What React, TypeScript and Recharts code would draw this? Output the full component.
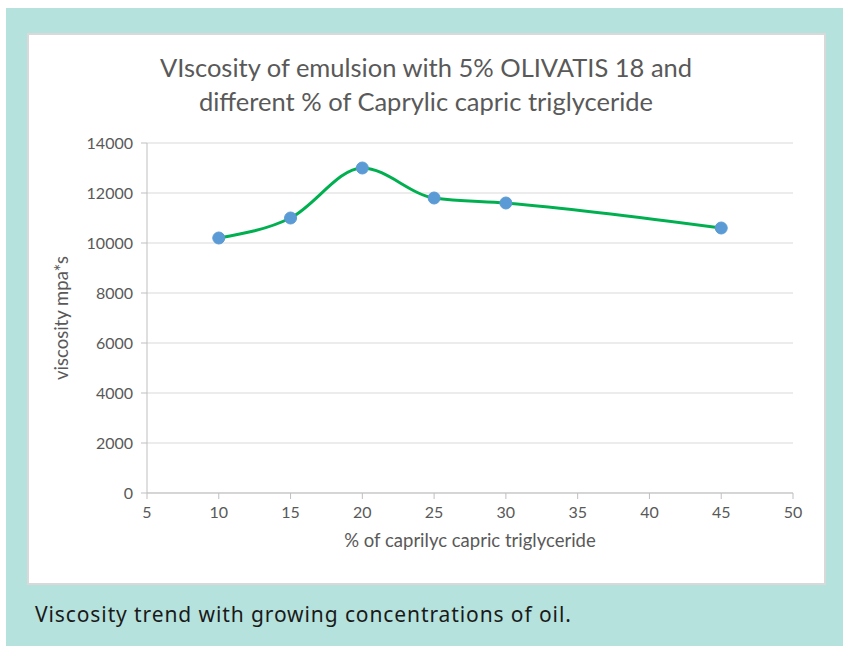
import { CartesianGrid, Line, LineChart, XAxis, YAxis } from "recharts";

const oilPercent = [10, 15, 20, 25, 30, 45];
const viscosity = [10200, 11000, 13000, 11800, 11600, 10600];
const xTicks = [5, 10, 15, 20, 25, 30, 35, 40, 45, 50];
const yTicks = [0, 2000, 4000, 6000, 8000, 10000, 12000, 14000];

const data = oilPercent.map((p, i) => ({ pct: p, visc: viscosity[i] }));

const font = "Lato, 'Open Sans', sans-serif";

export default function App() {
  return (
    <div style={{ position: "fixed", left: 0, top: 0, width: 843, height: 646, background: "#fff", fontFamily: font, overflow: "hidden" }}>
      <div style={{ position: "absolute", left: 6, top: 8, width: 837, height: 638, background: "#b6e2dd" }} />
      <div
        style={{
          position: "absolute",
          left: 27,
          top: 33,
          width: 795,
          height: 548,
          background: "#fff",
          border: "2px solid #d9d9d9",
        }}
      />
      <div
        style={{
          position: "absolute",
          left: 28,
          top: 50,
          width: 796,
          textAlign: "center",
          fontSize: 25.5,
          lineHeight: "34px",
          color: "#595959",
        }}
      >
        VIscosity of emulsion with 5% OLIVATIS 18 and
        <br />
        different % of Caprylic capric triglyceride
      </div>
      <div style={{ position: "absolute", left: 0, top: 0 }}>
        <LineChart width={843} height={646} data={data} margin={{ top: 143, right: 50, bottom: 123, left: 87 }}>
          <CartesianGrid vertical={false} stroke="#d9d9d9" />
          <XAxis
            dataKey="pct"
            type="number"
            domain={[5, 50]}
            ticks={xTicks}
            stroke="#bfbfbf"
            tick={{ fill: "#595959", fontSize: 16 }}
            tickSize={6}
            tickMargin={8}
            height={30}
            label={{ value: "% of caprilyc capric triglyceride", position: "insideBottom", offset: -24, fill: "#595959", fontSize: 18.5 }}
          />
          <YAxis
            type="number"
            domain={[0, 14000]}
            ticks={yTicks}
            stroke="#bfbfbf"
            tick={{ fill: "#595959", fontSize: 16 }}
            tickSize={6}
            tickMargin={8}
            width={60}
            label={{ value: "viscosity mpa*s", angle: -90, position: "insideLeft", offset: -26, fill: "#595959", fontSize: 18.5, style: { textAnchor: "middle" } }}
          />
          <Line
            dataKey="visc"
            type="monotone"
            stroke="#00b050"
            strokeWidth={3}
            dot={{ r: 6, fill: "#5b9bd5", stroke: "#5b9bd5", strokeWidth: 1 }}
            isAnimationActive={false}
          />
        </LineChart>
      </div>
      <div
        style={{
          position: "absolute",
          left: 35,
          top: 600,
          fontSize: 21,
          letterSpacing: 0.9,
          color: "#1a1a1a",
          fontFamily: "'Noto Sans', sans-serif",
        }}
      >
        Viscosity trend with growing concentrations of oil.
      </div>
    </div>
  );
}
